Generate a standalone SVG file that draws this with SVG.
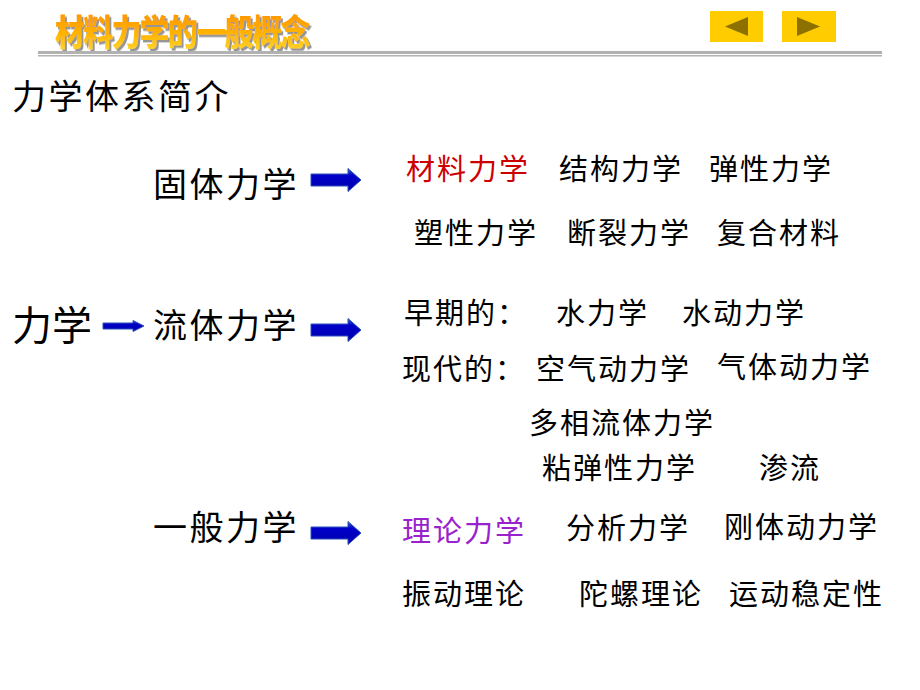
<svg xmlns="http://www.w3.org/2000/svg" width="920" height="690" viewBox="0 0 920 690">
<defs>
<linearGradient id="tg" x1="0" y1="0" x2="0" y2="1">
<stop offset="0" stop-color="#ff8a00"/>
<stop offset="0.55" stop-color="#ffb300"/>
<stop offset="1" stop-color="#ffe040"/>
</linearGradient>
<linearGradient id="ag" x1="0" y1="0" x2="0" y2="1">
<stop offset="0" stop-color="#3a5fd0"/>
<stop offset="0.3" stop-color="#0000c8"/>
<stop offset="1" stop-color="#0000b0"/>
</linearGradient>
<filter id="sh" x="-5%" y="-20%" width="110%" height="140%">
<feDropShadow dx="2" dy="2" stdDeviation="0.6" flood-color="#8a8a8a" flood-opacity="0.9"/>
</filter>
<path id="bigArrow" d="M0,-6 H37 V-11.5 L50,0 L37,11.5 V6 H0 Z"/>
</defs>
<style>
text{font-family:"Noto Sans CJK SC","Noto Sans",sans-serif;fill:#000}
.l{font-size:34px;letter-spacing:2.5px}
.r{font-size:29px;letter-spacing:2px}
.arr{fill:url(#ag);stroke:#2a4fb8;stroke-width:1}
.nav{fill:#ffcc00}
.tri{fill:#8c7000}
</style>
<rect width="920" height="690" fill="#fff"/>
<g id="header">
<text transform="translate(55,46) scale(1,1.2)" filter="url(#sh)" style="font-size:30px;font-weight:900;letter-spacing:-1.8px;fill:url(#tg)">材料力学的一般概念</text>
<rect x="38" y="51" width="844" height="3" fill="#b2b2b2"/>
<rect x="38" y="55" width="844" height="1.5" fill="#b2b2b2"/>
</g>
<g id="nav-prev"><rect class="nav" x="710" y="11" width="53" height="31"/><polygon class="tri" points="725,26.5 748,17 748,36"/></g>
<g id="nav-next"><rect class="nav" x="782" y="11" width="54" height="31"/><polygon class="tri" points="820,26.5 797,17 797,36"/></g>
<g id="subtitle"><text class="l" x="12" y="109">力学体系简介</text></g>
<g id="root"><text x="12" y="340" style="font-size:40px">力学</text></g>
<g id="solid"><text class="l" x="153" y="197">固体力学</text></g>
<g id="fluid"><text class="l" x="153" y="338">流体力学</text></g>
<g id="general"><text class="l" x="153" y="540">一般力学</text></g>
<g id="solid-list">
<text class="r" x="406" y="180" style="fill:#cc0000">材料力学</text>
<text class="r" x="559" y="180">结构力学</text>
<text class="r" x="709" y="180">弹性力学</text>
<text class="r" x="414" y="244">塑性力学</text>
<text class="r" x="567" y="244">断裂力学</text>
<text class="r" x="717" y="244">复合材料</text>
</g>
<g id="fluid-list">
<text class="r" x="404" y="324">早期的：</text>
<text class="r" x="556" y="324">水力学</text>
<text class="r" x="682" y="324">水动力学</text>
<text class="r" x="402" y="380">现代的：</text>
<text class="r" x="536" y="380">空气动力学</text>
<text class="r" x="717" y="378">气体动力学</text>
<text class="r" x="529" y="434">多相流体力学</text>
<text class="r" x="542" y="479">粘弹性力学</text>
<text class="r" x="759" y="479">渗流</text>
</g>
<g id="general-list">
<text class="r" x="402" y="542" style="fill:#9922cc">理论力学</text>
<text class="r" x="566" y="539">分析力学</text>
<text class="r" x="724" y="538">刚体动力学</text>
<text class="r" x="402" y="605">振动理论</text>
<text class="r" x="579" y="605">陀螺理论</text>
<text class="r" x="729" y="605">运动稳定性</text>
</g>
<g id="connectors">
<use href="#bigArrow" class="arr" transform="translate(311,180)"/>
<use href="#bigArrow" class="arr" transform="translate(311,330)"/>
<use href="#bigArrow" class="arr" transform="translate(311,533)"/>
<path class="arr" d="M103,323 H133 V320.5 L144,326 L133,331.5 V329 H103 Z"/>
</g>
</svg>
